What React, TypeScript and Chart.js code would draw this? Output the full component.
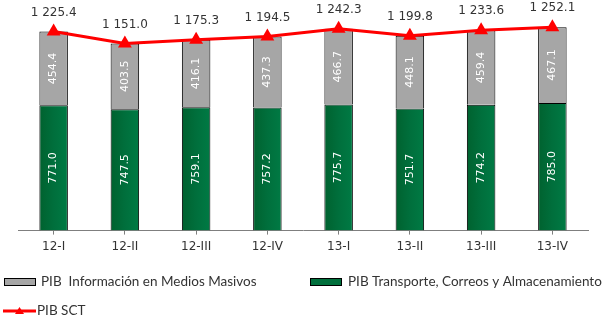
import React, { useEffect, useRef } from "react";
import { Chart, registerables } from "chart.js";

Chart.register(...registerables);

const categories = ["12-I", "12-II", "12-III", "12-IV", "13-I", "13-II", "13-III", "13-IV"];
const transporte = [771.0, 747.5, 759.1, 757.2, 775.7, 751.7, 774.2, 785.0];
const informacion = [454.4, 403.5, 416.1, 437.3, 466.7, 448.1, 459.4, 467.1];
const pibSct = [1225.4, 1151.0, 1175.3, 1194.5, 1242.3, 1199.8, 1233.6, 1252.1];

const seriesNames = [
  "PIB  Información en Medios Masivos",
  "PIB Transporte, Correos y Almacenamiento",
  "PIB SCT",
];

const GREEN = "#006F3C";
const GREY = "#A6A6A6";
const RED = "#FF0000";
const TEXT = "#333333";

function fmt(v: number): string {
  const s = v.toFixed(1);
  const [i, d] = s.split(".");
  const withSp = i.replace(/\B(?=(\d{3})+(?!\d))/g, " ");
  return withSp + "." + d;
}

function greenFill(c: any) {
  const chart = c.chart;
  const xs = chart.scales && chart.scales.x;
  if (!xs || c.dataIndex === undefined) return GREEN;
  const x = xs.getPixelForValue(c.dataIndex);
  if (!Number.isFinite(x)) return GREEN;
  const g = chart.ctx.createLinearGradient(x - 14, 0, x + 14, 0);
  g.addColorStop(0, "#00622F");
  g.addColorStop(0.5, "#006F3C");
  g.addColorStop(1, "#007A44");
  return g;
}

const labelsPlugin = {
  id: "customLabels",
  afterDatasetsDraw(chart: any) {
    const ctx = chart.ctx;
    ctx.save();
    [0, 1].forEach((di) => {
      const meta = chart.getDatasetMeta(di);
      const data = chart.data.datasets[di].data as number[];
      meta.data.forEach((el: any, i: number) => {
        const props = el.getProps(["x", "y", "base"], true);
        const cy = (props.y + props.base) / 2;
        ctx.save();
        ctx.translate(props.x, cy);
        ctx.rotate(-Math.PI / 2);
        ctx.fillStyle = "#FFFFFF";
        ctx.font = "11px 'DejaVu Sans'";
        ctx.textAlign = "center";
        ctx.textBaseline = "middle";
        ctx.fillText(data[i].toFixed(1), 0, 0);
        ctx.restore();
      });
    });
    const lmeta = chart.getDatasetMeta(2);
    lmeta.data.forEach((el: any, i: number) => {
      ctx.fillStyle = TEXT;
      ctx.font = "12px 'DejaVu Sans'";
      ctx.textAlign = "center";
      ctx.textBaseline = "middle";
      ctx.fillText(fmt(pibSct[i]), el.x, el.y - 19);
    });
    ctx.restore();
  },
  afterDraw(chart: any) {
    const ctx = chart.ctx;
    ctx.save();
    ctx.font = "13.5px Lato";
    ctx.textBaseline = "middle";
    ctx.textAlign = "left";
    const y1 = 282;
    ctx.fillStyle = GREY;
    ctx.fillRect(4, y1 - 4, 32, 8);
    ctx.strokeStyle = "#000";
    ctx.lineWidth = 1;
    ctx.strokeRect(4.5, y1 - 3.5, 31, 7);
    ctx.fillStyle = TEXT;
    ctx.fillText(seriesNames[0], 41, y1);
    ctx.fillStyle = GREEN;
    ctx.fillRect(310, y1 - 4, 32, 8);
    ctx.strokeRect(310.5, y1 - 3.5, 31, 7);
    ctx.fillStyle = TEXT;
    ctx.fillText(seriesNames[1], 348, y1);
    const y2 = 311;
    ctx.strokeStyle = RED;
    ctx.lineWidth = 3;
    ctx.beginPath();
    ctx.moveTo(3, y2);
    ctx.lineTo(36, y2);
    ctx.stroke();
    ctx.fillStyle = RED;
    ctx.beginPath();
    ctx.moveTo(19.5, y2 - 4);
    ctx.lineTo(24, y2 + 3);
    ctx.lineTo(15, y2 + 3);
    ctx.closePath();
    ctx.fill();
    ctx.fillStyle = TEXT;
    ctx.fillText(seriesNames[2], 37, y2);
    ctx.restore();
  },
};

export default function App() {
  const ref = useRef<HTMLCanvasElement | null>(null);
  useEffect(() => {
    document.body.style.margin = "0";
    const canvas = ref.current!;
    const chart = new Chart(canvas, {
      type: "bar",
      data: {
        labels: categories,
        datasets: [
          {
            type: "bar",
            label: seriesNames[1],
            data: transporte,
            backgroundColor: greenFill as any,
            borderColor: "#000",
            borderWidth: 1,
            stack: "bars",
            order: 2,
            categoryPercentage: 1,
            barPercentage: 0.4,
          },
          {
            type: "bar",
            label: seriesNames[0],
            data: informacion,
            backgroundColor: GREY,
            borderColor: "#000",
            borderWidth: 1,
            stack: "bars",
            order: 2,
            categoryPercentage: 1,
            barPercentage: 0.4,
          },
          {
            type: "line",
            label: seriesNames[2],
            data: pibSct,
            borderColor: RED,
            backgroundColor: RED,
            borderWidth: 3,
            pointStyle: "triangle",
            pointRadius: 8,
            pointBorderWidth: 0,
            pointBackgroundColor: RED,
            stack: "line",
            order: 0,
          } as any,
        ],
      },
      options: {
        animation: false,
        responsive: false,
        maintainAspectRatio: false,
        layout: { padding: { left: 18, right: 17, top: 4, bottom: 60 } },
        plugins: {
          legend: { display: false },
          tooltip: { enabled: false },
        },
        scales: {
          x: {
            stacked: true,
            offset: true,
            grid: {
              offset: false,
              drawOnChartArea: false,
              tickLength: 4,
              color: "#7F7F7F",
            },
            border: { display: true, color: "#7F7F7F", width: 1 },
            ticks: {
              color: TEXT,
              font: { family: "'DejaVu Sans'", size: 12 },
              padding: 5,
            },
          },
          y: {
            stacked: true,
            display: false,
            min: 0,
            max: 1370,
          },
        },
      },
      plugins: [labelsPlugin],
    });
    return () => chart.destroy();
  }, []);
  return (
    <div style={{ position: "fixed", left: 0, top: 0, width: 605, height: 319, background: "#fff" }}>
      <canvas ref={ref} width={605} height={319} style={{ width: 605, height: 319 }} />
    </div>
  );
}
